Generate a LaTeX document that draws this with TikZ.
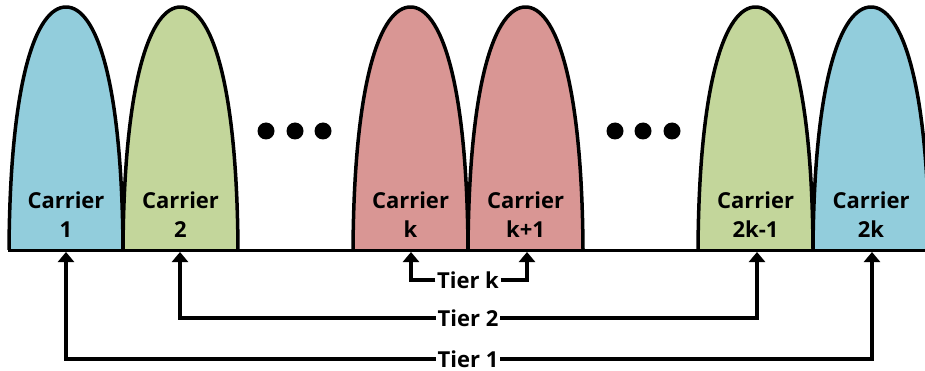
\documentclass[tikz,border=0pt]{standalone}
\usepackage{fontspec}
\setmainfont{Open Sans}
\usetikzlibrary{arrows.meta}
\definecolor{cblue}{HTML}{92CDDC}
\definecolor{cgreen}{HTML}{C3D69B}
\definecolor{cred}{HTML}{D99694}
\tikzset{
  hump/.style={draw=black,line width=3.5pt,line join=round},
  ctext/.style={font=\bfseries\fontsize{22}{29}\selectfont,align=center,inner sep=0pt,anchor=base},
  tier/.style={font=\bfseries\fontsize{22}{24}\selectfont,inner sep=1.5pt},
  conn/.style={line width=3.5pt,-{Triangle[width=16pt,length=10pt]}},
  dot/.style={circle,fill=black,inner sep=0pt,minimum size=17pt},
}
\newcommand{\humpat}[3]{% left x, right x, colour
  \pgfmathsetmacro{\xc}{(#1+#2)/2}
  \filldraw[hump,fill=#3] (#1,250) .. controls (#1+1,80) and (\xc-30,7) .. (\xc,7)
     .. controls (\xc+30,7) and (#2-1,80) .. (#2,250);
}
\begin{document}
\begin{tikzpicture}[x=1pt,y=-1pt]
\useasboundingbox (0,0) rectangle (925,371);
\humpat{9}{123}{cblue}
\humpat{123}{238}{cgreen}
\humpat{353}{468}{cred}
\humpat{468}{583}{cred}
\humpat{698}{813}{cgreen}
\humpat{813}{929}{cblue}
\draw[line width=3pt] (8,250) -- (930,250);
% labels
\node[ctext] (l1) at (66,237) {Carrier\\1};
\node[ctext] (l2) at (180.5,237) {Carrier\\2};
\node[ctext] (lk) at (410.5,237) {Carrier\\k};
\node[ctext] (lk1) at (525.5,237) {Carrier\\k+1};
\node[ctext] (l2k1) at (755.5,237) {Carrier\\2k-1};
\node[ctext] (l2k) at (871,237) {Carrier\\2k};
% dots
\node[dot] (d1) at (266,131) {};
\node[dot] (d2) at (295,131) {};
\node[dot] (d3) at (323,131) {};
\node[dot] (d4) at (615,131) {};
\node[dot] (d5) at (643,131) {};
\node[dot] (d6) at (672,131) {};
% tip coordinates
\coordinate (c1) at (66,252);
\coordinate (c2) at (180,252);
\coordinate (ck) at (411,252);
\coordinate (ck1) at (527,252);
\coordinate (c2k1) at (757,252);
\coordinate (c2k) at (872,252);
% tiers
\node[tier] (tk) at (468,280) {Tier k};
\node[tier] (t2) at (468,318) {Tier 2};
\node[tier] (t1) at (468,359) {Tier 1};
\draw[conn] (tk.west) -| (ck);
\draw[conn] (tk.east) -| (ck1);
\draw[conn] (t2.west) -| (c2);
\draw[conn] (t2.east) -| (c2k1);
\draw[conn] (t1.west) -| (c1);
\draw[conn] (t1.east) -| (c2k);
\end{tikzpicture}
\end{document}
